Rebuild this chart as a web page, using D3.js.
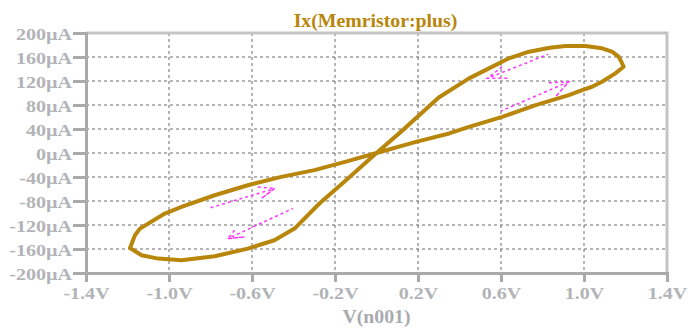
<!DOCTYPE html>
<html>
<head>
<meta charset="utf-8">
<script src="https://cdn.jsdelivr.net/npm/d3@7"></script>
<style>
    body { margin: 0; background: #ffffff; }
    text { font-family: "Liberation Serif", "Times New Roman", serif; font-weight: bold; }
</style>
</head>
<body>
<div id="chart"></div>
<script>
// Tick values of both axes
const xTicks = [-1.4, -1.0, -0.6, -0.2, 0.2, 0.6, 1.0, 1.4]
const yTicks = [200, 160, 120, 80, 40, 0, -40, -80, -120, -160, -200]

// Loop of the memristor current, [V, µA]
const loopV = [0, 0.124, 0.30, 0.446, 0.542, 0.638, 0.735, 0.835, 0.911, 1.007, 1.087, 1.135, 1.167, 1.18, 1.191,
    1.151, 1.087, 1.039, 0.991, 0.927, 0.767, 0.606, 0.446, 0.35, 0.19, 0,
    -0.147, -0.299, -0.459, -0.62, -0.78, -0.94, -1.02, -1.14, -1.164, -1.188,
    -1.132, -1.052, -0.94, -0.78, -0.62, -0.492, -0.395, -0.299, -0.275, -0.147, 0]
const loopI = [0, 37.3, 92.4, 124.4, 141.1, 157.8, 168.8, 175.5, 178.3, 178.3, 174.5, 168.8, 160.5, 152.1, 143.8,
    132.8, 118.7, 110.4, 104.9, 96.6, 79.9, 60.3, 43.6, 32.6, 18.6, 0,
    -14.4, -28.6, -39.8, -53.7, -70.4, -89.9, -100.9, -126, -137.1, -158.3,
    -170.5, -176, -178.8, -172.2, -159.3, -145.4, -125.9, -92.5, -84.2, -45.3, 0]

// Magenta direction arrows: barb, head, barb, then head back to the tail
const arrowV = [
    [0.606, 0.534, 0.638, 0.534, 0.827],
    [0.831, 0.927, 0.863, 0.927, 0.599],
    [-0.572, -0.491, -0.555, -0.491, -0.812],
    [-0.684, -0.716, -0.636, -0.716, -0.403]
]
const arrowI = [
    [143.8, 124.4, 124.4, 124.4, 164.5],
    [117, 118.7, 93.7, 118.7, 69.8],
    [-56.5, -59.2, -75.9, -59.2, -92.5],
    [-128.7, -142.6, -140, -142.6, -92.5]
]

const title = "Ix(Memristor:plus)"
const xTitle = "V(n001)"

const margin = { top: 33, right: 32, bottom: 56, left: 86 },
    width = 699 - margin.left - margin.right,
    height = 329 - margin.top - margin.bottom

// the labels in the picture are wider than Liberation Serif, stretch them
const stretch = 1.18

const svg = d3.select("#chart")
    .append("svg")
    .attr("width", 699)
    .attr("height", 329)

const g = svg.append("g")
    .attr("transform", "translate(" + margin.left + "," + margin.top + ")")

const x = d3.scaleLinear().domain([-1.4, 1.4]).range([0, width])
const y = d3.scaleLinear().domain([-200, 200]).range([height, 0])

// dashed grid
g.selectAll(".vgrid")
    .data(xTicks.slice(1, -1))
    .enter()
    .append("line")
    .attr("x1", d => x(d)).attr("x2", d => x(d))
    .attr("y1", 0).attr("y2", height)
    .attr("stroke", "#6b6b6b")
    .attr("stroke-dasharray", "3,3")
g.selectAll(".hgrid")
    .data(yTicks.slice(1, -1))
    .enter()
    .append("line")
    .attr("x1", 0).attr("x2", width)
    .attr("y1", d => y(d)).attr("y2", d => y(d))
    .attr("stroke", "#6b6b6b")
    .attr("stroke-dasharray", "3,3")

// frame on top and right
g.append("path")
    .attr("d", "M0,0H" + width + "V" + height)
    .attr("fill", "none")
    .attr("stroke", "#c4c4c4")
    .attr("stroke-width", 3)

// axes
const xAxis = g.append("g")
    .attr("transform", "translate(0," + height + ")")
    .call(d3.axisBottom(x).tickValues(xTicks).tickSize(9).tickPadding(5)
        .tickFormat(d => d3.format(".1f")(d).replace("−", "-") + "V"))
const yAxis = g.append("g")
    .call(d3.axisLeft(y).tickValues(yTicks).tickSize(13).tickPadding(1)
        .tickFormat(d => d + "µA"))

for (const ax of [xAxis, yAxis]) {
    ax.select(".domain").attr("stroke", "#aaaaaa").attr("stroke-width", 3)
    ax.selectAll(".tick line").attr("stroke", "#aaaaaa").attr("stroke-width", 3)
    ax.selectAll(".tick text")
        .attr("fill", "#b2b4b8")
        .attr("transform", "scale(" + stretch + ",1)")
        .style("font-size", "17px")
        .style("font-family", "Liberation Serif")
        .style("font-weight", "bold")
}
yAxis.selectAll(".tick text").attr("dy", "0.36em").attr("x", -14 / stretch)

// the loop
const line = d3.line()
    .x(d => x(d[0]))
    .y(d => y(d[1]))

g.append("path")
    .datum(loopV.map((v, i) => [v, loopI[i]]))
    .attr("d", line)
    .attr("fill", "none")
    .attr("stroke", "#b8860b")
    .attr("stroke-width", 4)
    .attr("stroke-linejoin", "round")

g.selectAll(".arrow")
    .data(arrowV.map((vs, k) => vs.map((v, i) => [v, arrowI[k][i]])))
    .enter()
    .append("path")
    .attr("d", line)
    .attr("fill", "none")
    .attr("stroke", "#ff33ff")
    .attr("stroke-width", 1.5)
    .attr("stroke-dasharray", "3,3")

// titles
svg.append("text")
    .attr("transform", "translate(" + (margin.left + width / 2 - 1) + ",27) scale(1.1,1)")
    .attr("text-anchor", "middle")
    .attr("fill", "#b8860b")
    .style("font-size", "18px")
    .text(title)
svg.append("text")
    .attr("transform", "translate(" + (margin.left + width / 2) + ",323) scale(1.1,1)")
    .attr("text-anchor", "middle")
    .attr("fill", "#a9abb0")
    .style("font-size", "18px")
    .text(xTitle)
</script>
</body>
</html>
